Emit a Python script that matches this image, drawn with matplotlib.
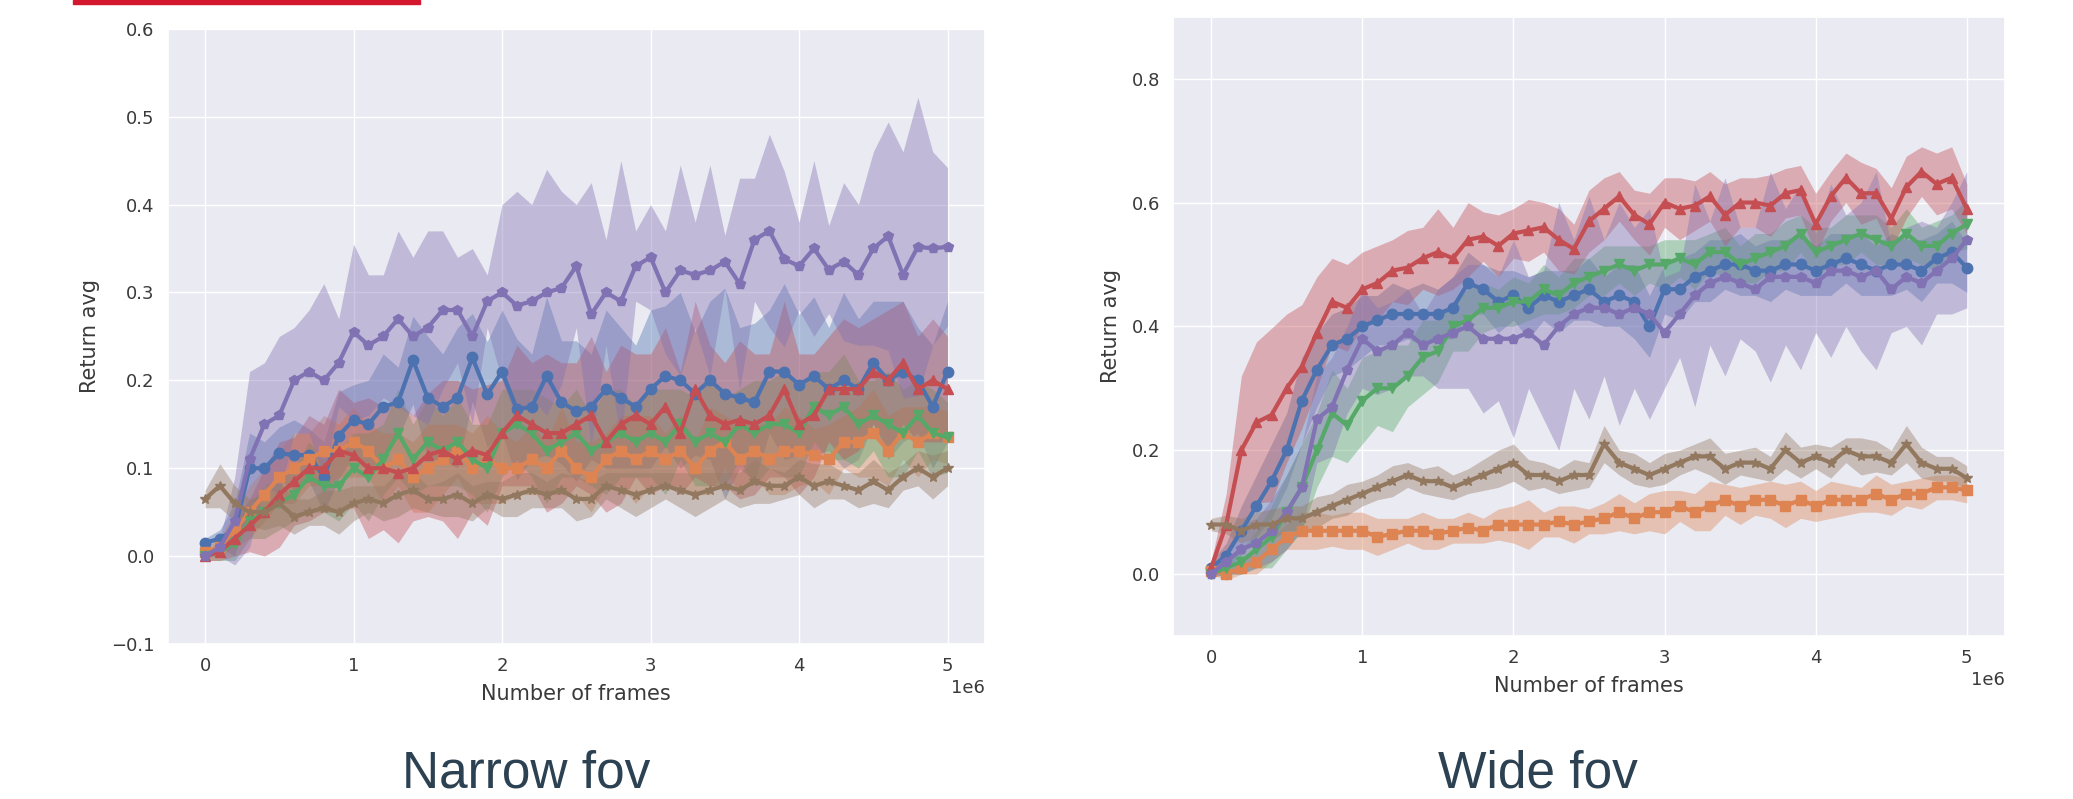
import numpy as np
import matplotlib
matplotlib.use("Agg")
import matplotlib.pyplot as plt
import seaborn as sns
from matplotlib.patches import Rectangle

# ── Data (return avg, sampled every 0.1e6 frames) ───────────────────────────
frames = np.arange(51) * 1e5

# Narrow fov
narrow_blue = [0.015, 0.02, 0.03, 0.10, 0.10, 0.117, 0.115, 0.115, 0.09, 0.137, 0.155, 0.15, 0.17, 0.175,
               0.223, 0.18, 0.17, 0.18, 0.226, 0.184, 0.21, 0.167, 0.17, 0.205, 0.175, 0.165, 0.17, 0.19,
               0.18, 0.17, 0.19, 0.205, 0.20, 0.185, 0.20, 0.185, 0.18, 0.175, 0.21, 0.21, 0.195, 0.205,
               0.19, 0.20, 0.19, 0.22, 0.20, 0.21, 0.20, 0.17, 0.21]
narrow_blue_sd = [0.005, 0.01, 0.03, 0.04, 0.03, 0.03, 0.04, 0.03, 0.04, 0.05, 0.04, 0.05, 0.06, 0.04,
                  0.05, 0.07, 0.06, 0.08, 0.05, 0.06, 0.07, 0.08, 0.06, 0.09, 0.07, 0.08, 0.06, 0.09,
                  0.08, 0.07, 0.09, 0.08, 0.10, 0.07, 0.09, 0.12, 0.08, 0.09, 0.07, 0.10, 0.08, 0.09,
                  0.07, 0.10, 0.08, 0.07, 0.09, 0.08, 0.06, 0.07, 0.08]
narrow_orange = [0.005, 0.01, 0.03, 0.05, 0.07, 0.09, 0.10, 0.11, 0.12, 0.12, 0.13, 0.12, 0.10, 0.11,
                 0.09, 0.10, 0.11, 0.12, 0.10, 0.11, 0.10, 0.10, 0.11, 0.10, 0.12, 0.10, 0.09, 0.11,
                 0.12, 0.11, 0.12, 0.11, 0.12, 0.10, 0.12, 0.13, 0.11, 0.12, 0.11, 0.12, 0.12, 0.115,
                 0.11, 0.13, 0.13, 0.14, 0.12, 0.14, 0.13, 0.14, 0.135]
narrow_orange_sd = [0.005, 0.01, 0.02, 0.03, 0.03, 0.03, 0.04, 0.03, 0.04, 0.03, 0.04, 0.03, 0.04, 0.03,
                    0.04, 0.05, 0.04, 0.03, 0.04, 0.05, 0.04, 0.03, 0.04, 0.03, 0.05, 0.03, 0.04, 0.03,
                    0.04, 0.05, 0.04, 0.03, 0.04, 0.03, 0.05, 0.03, 0.04, 0.03, 0.04, 0.05, 0.04, 0.03,
                    0.04, 0.03, 0.04, 0.05, 0.04, 0.03, 0.04, 0.03, 0.03]
narrow_green = [0.0, 0.005, 0.015, 0.04, 0.05, 0.06, 0.07, 0.09, 0.08, 0.08, 0.10, 0.09, 0.11, 0.14,
                0.11, 0.13, 0.12, 0.13, 0.11, 0.10, 0.14, 0.15, 0.14, 0.12, 0.13, 0.14, 0.12, 0.13,
                0.14, 0.13, 0.14, 0.13, 0.15, 0.13, 0.14, 0.13, 0.15, 0.14, 0.15, 0.15, 0.14, 0.17,
                0.16, 0.17, 0.15, 0.16, 0.15, 0.14, 0.16, 0.14, 0.135]
narrow_green_sd = [0.005, 0.01, 0.02, 0.02, 0.03, 0.03, 0.03, 0.04, 0.03, 0.04, 0.04, 0.05, 0.04, 0.05,
                   0.04, 0.05, 0.04, 0.05, 0.04, 0.05, 0.05, 0.04, 0.05, 0.06, 0.04, 0.05, 0.04, 0.06,
                   0.05, 0.04, 0.05, 0.06, 0.04, 0.05, 0.06, 0.05, 0.04, 0.06, 0.05, 0.06, 0.05, 0.04,
                   0.05, 0.06, 0.05, 0.04, 0.06, 0.05, 0.04, 0.05, 0.04]
narrow_red = [0.0, 0.005, 0.02, 0.035, 0.05, 0.07, 0.085, 0.10, 0.10, 0.12, 0.115, 0.10, 0.10, 0.095,
              0.10, 0.115, 0.12, 0.11, 0.12, 0.115, 0.14, 0.16, 0.15, 0.14, 0.14, 0.15, 0.16, 0.13,
              0.15, 0.16, 0.15, 0.17, 0.14, 0.19, 0.16, 0.15, 0.155, 0.15, 0.16, 0.19, 0.15, 0.16,
              0.19, 0.19, 0.19, 0.21, 0.20, 0.22, 0.19, 0.20, 0.19]
narrow_red_sd = [0.005, 0.01, 0.02, 0.03, 0.05, 0.06, 0.05, 0.06, 0.05, 0.07, 0.06, 0.08, 0.07, 0.08,
                 0.06, 0.07, 0.08, 0.09, 0.07, 0.08, 0.06, 0.08, 0.07, 0.09, 0.08, 0.07, 0.09, 0.08,
                 0.09, 0.07, 0.08, 0.09, 0.07, 0.10, 0.08, 0.07, 0.09, 0.08, 0.07, 0.10, 0.08, 0.07,
                 0.06, 0.08, 0.07, 0.06, 0.08, 0.07, 0.06, 0.07, 0.06]
narrow_purple = [0.0, 0.01, 0.04, 0.11, 0.15, 0.16, 0.20, 0.21, 0.20, 0.22, 0.255, 0.24, 0.25, 0.27,
                 0.25, 0.26, 0.28, 0.28, 0.25, 0.29, 0.30, 0.285, 0.29, 0.30, 0.305, 0.33, 0.275, 0.30,
                 0.29, 0.33, 0.34, 0.30, 0.325, 0.32, 0.325, 0.335, 0.31, 0.36, 0.37, 0.338, 0.33,
                 0.35, 0.326, 0.335, 0.32, 0.35, 0.364, 0.32, 0.352, 0.35, 0.352]
narrow_purple_sd = [0.0, 0.01, 0.05, 0.10, 0.07, 0.09, 0.06, 0.07, 0.11, 0.05, 0.10, 0.08, 0.07, 0.10,
                    0.09, 0.11, 0.09, 0.06, 0.10, 0.03, 0.10, 0.13, 0.11, 0.14, 0.11, 0.07, 0.15, 0.06,
                    0.16, 0.04, 0.06, 0.07, 0.12, 0.06, 0.12, 0.03, 0.12, 0.07, 0.11, 0.10, 0.05, 0.10,
                    0.05, 0.09, 0.08, 0.11, 0.13, 0.14, 0.17, 0.11, 0.09]
narrow_brown = [0.065, 0.08, 0.06, 0.05, 0.05, 0.06, 0.045, 0.05, 0.055, 0.05, 0.06, 0.065, 0.06, 0.07,
                0.075, 0.065, 0.065, 0.07, 0.06, 0.07, 0.065, 0.07, 0.075, 0.07, 0.075, 0.065, 0.065,
                0.08, 0.075, 0.07, 0.075, 0.08, 0.075, 0.07, 0.075, 0.08, 0.075, 0.085, 0.08, 0.08,
                0.09, 0.08, 0.085, 0.08, 0.075, 0.085, 0.075, 0.09, 0.10, 0.09, 0.10]
narrow_brown_sd = [0.01, 0.025, 0.02, 0.015, 0.02, 0.025, 0.02, 0.015, 0.02, 0.025, 0.02, 0.015, 0.02,
                   0.025, 0.02, 0.015, 0.02, 0.025, 0.02, 0.015, 0.02, 0.025, 0.02, 0.015, 0.02, 0.025,
                   0.02, 0.015, 0.02, 0.025, 0.02, 0.015, 0.02, 0.025, 0.02, 0.015, 0.02, 0.025, 0.02,
                   0.015, 0.02, 0.025, 0.02, 0.015, 0.02, 0.025, 0.02, 0.015, 0.02, 0.025, 0.02]

# Wide fov
wide_blue = [0.01, 0.03, 0.07, 0.11, 0.15, 0.20, 0.28, 0.33, 0.37, 0.38, 0.40, 0.41, 0.42, 0.42, 0.42,
             0.42, 0.43, 0.47, 0.46, 0.44, 0.45, 0.43, 0.45, 0.44, 0.45, 0.46, 0.44, 0.45, 0.44, 0.40,
             0.46, 0.46, 0.48, 0.49, 0.50, 0.50, 0.49, 0.49, 0.50, 0.50, 0.49, 0.50, 0.51, 0.50, 0.49,
             0.50, 0.50, 0.49, 0.51, 0.52, 0.495]
wide_blue_sd = [0.01, 0.02, 0.04, 0.05, 0.06, 0.06, 0.07, 0.06, 0.05, 0.05, 0.05, 0.04, 0.05, 0.04,
                0.05, 0.04, 0.05, 0.05, 0.04, 0.05, 0.04, 0.05, 0.04, 0.05, 0.04, 0.05, 0.04, 0.05,
                0.06, 0.05, 0.04, 0.05, 0.04, 0.05, 0.04, 0.05, 0.04, 0.05, 0.04, 0.05, 0.04, 0.05,
                0.04, 0.05, 0.04, 0.05, 0.04, 0.05, 0.04, 0.05, 0.04]
wide_orange = [0.005, 0.0, 0.01, 0.02, 0.04, 0.06, 0.07, 0.07, 0.07, 0.07, 0.07, 0.06, 0.065, 0.07,
               0.07, 0.065, 0.07, 0.075, 0.07, 0.08, 0.08, 0.08, 0.08, 0.085, 0.08, 0.085, 0.09, 0.10,
               0.09, 0.10, 0.10, 0.11, 0.10, 0.11, 0.12, 0.11, 0.12, 0.12, 0.11, 0.12, 0.11, 0.12,
               0.12, 0.12, 0.13, 0.12, 0.13, 0.13, 0.14, 0.14, 0.135]
wide_orange_sd = [0.005, 0.01, 0.01, 0.02, 0.02, 0.02, 0.03, 0.03, 0.025, 0.03, 0.03, 0.03, 0.025,
                  0.02, 0.03, 0.025, 0.02, 0.025, 0.02, 0.025, 0.03, 0.04, 0.02, 0.025, 0.03, 0.02,
                  0.025, 0.03, 0.025, 0.03, 0.035, 0.025, 0.03, 0.04, 0.025, 0.03, 0.025, 0.03, 0.035,
                  0.03, 0.025, 0.03, 0.025, 0.02, 0.03, 0.025, 0.02, 0.025, 0.02, 0.02, 0.02]
wide_green = [0.0, 0.01, 0.02, 0.04, 0.06, 0.10, 0.14, 0.20, 0.26, 0.24, 0.28, 0.30, 0.30, 0.32, 0.35,
              0.36, 0.40, 0.41, 0.43, 0.43, 0.44, 0.44, 0.46, 0.45, 0.47, 0.48, 0.49, 0.50, 0.49, 0.50,
              0.50, 0.51, 0.50, 0.52, 0.52, 0.50, 0.51, 0.52, 0.53, 0.55, 0.52, 0.53, 0.54, 0.55, 0.54,
              0.53, 0.55, 0.53, 0.53, 0.55, 0.565]
wide_green_sd = [0.005, 0.01, 0.02, 0.03, 0.05, 0.06, 0.07, 0.06, 0.07, 0.06, 0.07, 0.06, 0.07, 0.05,
                 0.06, 0.05, 0.04, 0.05, 0.04, 0.03, 0.04, 0.03, 0.04, 0.03, 0.04, 0.03, 0.04, 0.03,
                 0.04, 0.03, 0.04, 0.03, 0.04, 0.03, 0.04, 0.03, 0.04, 0.03, 0.04, 0.03, 0.04, 0.03,
                 0.04, 0.03, 0.04, 0.03, 0.04, 0.03, 0.04, 0.03, 0.04]
wide_red = [0.01, 0.08, 0.20, 0.245, 0.257, 0.30, 0.335, 0.39, 0.44, 0.43, 0.46, 0.47, 0.49, 0.495,
            0.51, 0.52, 0.51, 0.54, 0.545, 0.53, 0.55, 0.555, 0.56, 0.54, 0.525, 0.57, 0.59, 0.61,
            0.58, 0.565, 0.60, 0.59, 0.595, 0.61, 0.58, 0.60, 0.60, 0.595, 0.615, 0.62, 0.565, 0.61,
            0.64, 0.615, 0.615, 0.574, 0.625, 0.65, 0.63, 0.64, 0.59]
wide_red_sd = [0.01, 0.05, 0.12, 0.13, 0.14, 0.12, 0.10, 0.09, 0.07, 0.07, 0.06, 0.06, 0.05, 0.06,
               0.05, 0.07, 0.05, 0.06, 0.04, 0.05, 0.04, 0.05, 0.04, 0.05, 0.04, 0.05, 0.05, 0.04,
               0.04, 0.05, 0.04, 0.05, 0.04, 0.04, 0.05, 0.04, 0.04, 0.05, 0.04, 0.04, 0.05, 0.04,
               0.04, 0.05, 0.04, 0.05, 0.05, 0.04, 0.05, 0.05, 0.04]
wide_purple = [0.0, 0.02, 0.04, 0.05, 0.07, 0.10, 0.14, 0.25, 0.27, 0.33, 0.38, 0.36, 0.37, 0.39, 0.37,
               0.38, 0.39, 0.40, 0.38, 0.38, 0.38, 0.39, 0.37, 0.40, 0.42, 0.43, 0.43, 0.42, 0.43, 0.42,
               0.39, 0.42, 0.45, 0.47, 0.48, 0.47, 0.46, 0.48, 0.48, 0.48, 0.47, 0.49, 0.49, 0.48, 0.49,
               0.46, 0.48, 0.47, 0.49, 0.51, 0.54]
wide_purple_sd = [0.005, 0.02, 0.04, 0.04, 0.05, 0.06, 0.07, 0.07, 0.08, 0.07, 0.08, 0.07, 0.07, 0.07,
                  0.05, 0.08, 0.09, 0.10, 0.12, 0.10, 0.16, 0.09, 0.12, 0.20, 0.12, 0.18, 0.11, 0.18,
                  0.13, 0.17, 0.09, 0.07, 0.18, 0.10, 0.16, 0.09, 0.10, 0.17, 0.11, 0.15, 0.08, 0.14,
                  0.09, 0.12, 0.16, 0.07, 0.08, 0.10, 0.07, 0.09, 0.11]
wide_brown = [0.08, 0.08, 0.07, 0.08, 0.08, 0.09, 0.09, 0.10, 0.11, 0.12, 0.13, 0.14, 0.15, 0.16, 0.15,
              0.15, 0.14, 0.15, 0.16, 0.17, 0.18, 0.16, 0.16, 0.15, 0.16, 0.16, 0.21, 0.18, 0.17, 0.16,
              0.17, 0.18, 0.19, 0.19, 0.17, 0.18, 0.18, 0.17, 0.20, 0.18, 0.19, 0.18, 0.20, 0.19, 0.19,
              0.18, 0.21, 0.18, 0.17, 0.17, 0.155]
wide_brown_sd = [0.01, 0.015, 0.02, 0.02, 0.025, 0.02, 0.02, 0.025, 0.02, 0.025, 0.02, 0.02, 0.025, 0.02,
                 0.02, 0.025, 0.02, 0.02, 0.025, 0.03, 0.03, 0.025, 0.02, 0.02, 0.025, 0.02, 0.03, 0.02,
                 0.025, 0.02, 0.025, 0.02, 0.02, 0.03, 0.025, 0.02, 0.025, 0.02, 0.03, 0.025, 0.02,
                 0.025, 0.02, 0.03, 0.025, 0.02, 0.03, 0.025, 0.02, 0.02, 0.02]

panel_titles = ["Narrow fov", "Wide fov"]
panel_ylims = [(-0.1, 0.6), (-0.1, 0.9)]
caption_x = [0.254, 0.742]
markers = ["o", "s", "v", "^", "p", "*"]

narrow = [(narrow_blue, narrow_blue_sd), (narrow_orange, narrow_orange_sd),
          (narrow_green, narrow_green_sd), (narrow_red, narrow_red_sd),
          (narrow_purple, narrow_purple_sd), (narrow_brown, narrow_brown_sd)]
wide = [(wide_blue, wide_blue_sd), (wide_orange, wide_orange_sd),
        (wide_green, wide_green_sd), (wide_red, wide_red_sd),
        (wide_purple, wide_purple_sd), (wide_brown, wide_brown_sd)]

# ── Plot ────────────────────────────────────────────────────────────────────
sns.set_theme(style="darkgrid")
palette = sns.color_palette("deep")

fig = plt.figure(figsize=(20.73, 7.99), dpi=100)
axes = [fig.add_axes([0.081, 0.194, 0.394, 0.770]),
        fig.add_axes([0.566, 0.204, 0.401, 0.775])]

for ax, series, title, ylim, cx in zip(axes, [narrow, wide], panel_titles, panel_ylims, caption_x):
    for i, (mean, sd) in enumerate(series):
        mean = np.array(mean)
        sd = np.array(sd)
        c = palette[i]
        ax.fill_between(frames, mean - sd, mean + sd, color=c, alpha=0.4, linewidth=0)
        ax.plot(frames, mean, color=c, marker=markers[i], markersize=7.5, linewidth=3)
    ax.set_ylim(*ylim)
    ax.set_xticks(np.arange(6) * 1e6)
    ax.tick_params(labelsize=13, colors="#3a3a3a")
    ax.set_xlabel("Number of frames", fontsize=15, color="#3a3a3a", labelpad=6)
    ax.set_ylabel("Return avg", fontsize=15, color="#3a3a3a", labelpad=8)
    ax.xaxis.get_offset_text().set_fontsize(13)
    ax.xaxis.get_offset_text().set_color("#3a3a3a")
    # caption below the panel
    fig.text(cx, 0.014, title, ha="center", va="baseline",
             fontsize=37, color="#2c4152", family="Liberation Sans")

# red accent bar from the slide
fig.patches.append(Rectangle((73 / 2073, 1 - 4 / 799), 347 / 2073, 4 / 799,
                             transform=fig.transFigure, color="#d2172f", zorder=5))

fig.savefig("out.png", dpi=100, facecolor="white")
